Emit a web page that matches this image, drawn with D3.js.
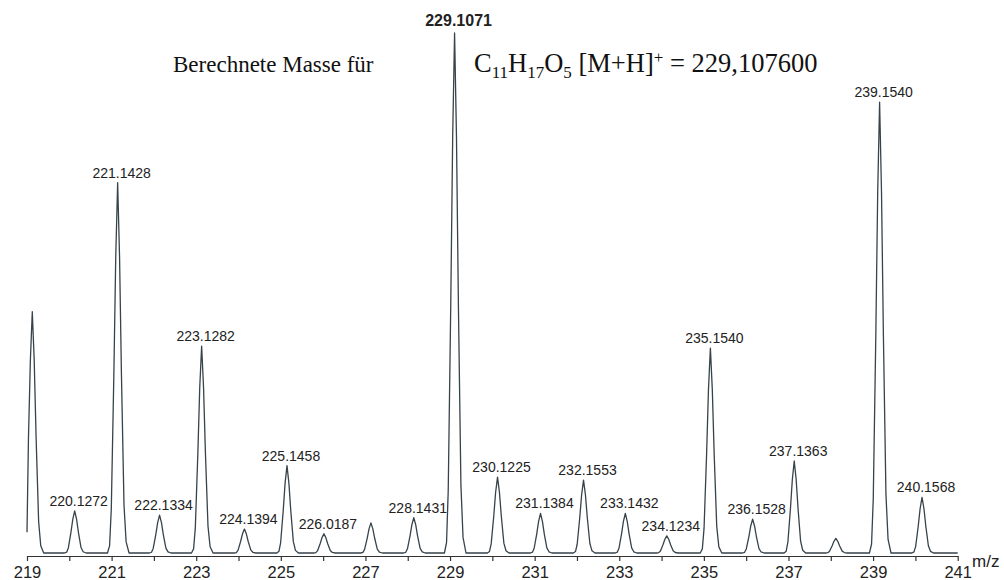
<!DOCTYPE html>
<html>
<head>
<meta charset="utf-8">
<script src="https://cdn.jsdelivr.net/npm/d3@7"></script>
<style>
  body { margin: 0; background: #fff; }
  svg { display: block; }
</style>
</head>
<body>
<svg id="chart" width="1004" height="580"></svg>
<script>
// Peak apex positions (m/z) and relative intensities (%)
const peakMz = [219.125, 220.1272, 221.1428, 222.1334, 223.1282, 224.1394, 225.1458,
  226.0187, 227.13, 228.1431, 229.1071, 230.1225, 231.1384, 232.1553, 233.1432,
  234.1234, 235.1540, 236.1528, 237.1363, 238.12, 239.1540, 240.1568];
const peakIntensity = [46.4, 8.1, 71.2, 7.3, 39.8, 4.6, 16.8, 3.7, 5.8, 6.8, 100,
  14.6, 7.6, 14.0, 7.6, 3.3, 39.4, 6.5, 17.7, 2.8, 86.7, 10.7];
const peakLabels = ["", "220.1272", "221.1428", "222.1334", "223.1282", "224.1394",
  "225.1458", "226.0187", "", "228.1431", "229.1071", "230.1225", "231.1384",
  "232.1553", "233.1432", "234.1234", "235.1540", "236.1528", "237.1363", "",
  "239.1540", "240.1568"];
const basePeakLabel = "229.1071";

// Signal level where the recorded window opens and closes: [m/z, intensity]
const traceStart = [219, 4.0];
const traceEnd = [241, 0];

// Axis ticks: every unit, labelled on odd values
const tickValues = d3.range(219, 242);
const tickLabels = ["219", "", "221", "", "223", "", "225", "", "227", "", "229", "",
  "231", "", "233", "", "235", "", "237", "", "239", "", "241"];

// Line profile of a single peak: [m/z offset, fraction of apex height]
const peakShape = [[-0.24, 0], [-0.19, 0.02], [-0.15, 0.12], [-0.09, 0.48],
  [-0.045, 0.8], [0, 1], [0.045, 0.8], [0.09, 0.48], [0.15, 0.13], [0.2, 0.03], [0.27, 0]];

const svg = d3.select("#chart");
const x = d3.scaleLinear().domain([219, 241]).range([27, 957.7]);
const y = d3.scaleLinear().domain([0, 100]).range([553, 33]);
const axisY = 556;

// Build the continuous spectrum trace from the peak list
const peaks = peakMz.map((mz, i) => ({ mz, intensity: peakIntensity[i], label: peakLabels[i] }));
const trace = [traceStart];
peaks.forEach(p => {
  peakShape.forEach(([dx, f]) => {
    const mz = p.mz + dx;
    if (mz > traceStart[0] && mz < traceEnd[0]) trace.push([mz, p.intensity * f]);
  });
});
trace.push(traceEnd);

const line = d3.line()
  .x(d => x(d[0]))
  .y(d => y(d[1]));

svg.append("path")
  .datum(trace)
  .attr("fill", "none")
  .attr("stroke", "#37434b")
  .attr("stroke-width", 1.3)
  .attr("stroke-linejoin", "round")
  .attr("d", line);

// Peak annotations
svg.append("g")
  .selectAll("text")
  .data(peaks.filter(p => p.label))
  .join("text")
  .attr("x", p => x(p.mz) + 4)
  .attr("y", p => p.label === basePeakLabel ? y(p.intensity) - 7 : y(p.intensity) - 5)
  .attr("text-anchor", "middle")
  .attr("font-family", "'Liberation Sans', Arial, sans-serif")
  .attr("font-size", p => p.label === basePeakLabel ? 16 : 14)
  .attr("font-weight", p => p.label === basePeakLabel ? "bold" : "normal")
  .attr("fill", "#222")
  .text(p => p.label);

// x axis
const axis = d3.axisBottom(x)
  .tickValues(tickValues)
  .tickSize(5)
  .tickSizeOuter(0)
  .tickFormat((d, i) => tickLabels[i]);

const gx = svg.append("g")
  .attr("transform", `translate(0,${axisY})`)
  .call(axis);
gx.select(".domain").attr("stroke", "#333").attr("stroke-width", 1.2);
gx.selectAll(".tick line").attr("stroke", "#333").attr("stroke-width", 1.2);
gx.selectAll(".tick text")
  .attr("font-family", "'Liberation Sans', Arial, sans-serif")
  .attr("font-size", 16.5)
  .attr("fill", "#222")
  .attr("dy", null)
  .attr("y", 22);

svg.append("text")
  .attr("x", 972).attr("y", 567)
  .attr("font-family", "'Liberation Sans', Arial, sans-serif")
  .attr("font-size", 17)
  .attr("fill", "#222")
  .text("m/z");

// Calculated mass caption
const serif = "'Liberation Serif', 'Times New Roman', serif";
svg.append("text")
  .attr("x", 173).attr("y", 72)
  .attr("font-family", serif)
  .attr("font-size", 23)
  .attr("fill", "#111")
  .text("Berechnete Masse für");

const formula = svg.append("text")
  .attr("x", 474).attr("y", 72)
  .attr("font-family", serif)
  .attr("font-size", 26.5)
  .attr("fill", "#111");
const parts = [
  ["C", 0], ["11", 1], ["H", 0], ["17", 1], ["O", 0], ["5", 1],
  [" [M+H]", 0], ["+", -1], [" = 229,107600", 0]
];
let shift = 0;
parts.forEach(([t, kind]) => {
  const target = kind === 1 ? 6 : kind === -1 ? -9 : 0;
  formula.append("tspan")
    .attr("dy", target - shift)
    .attr("font-family", serif)
    .attr("font-size", kind === 0 ? 26.5 : 17)
    .text(t);
  shift = target;
});
</script>
</body>
</html>
